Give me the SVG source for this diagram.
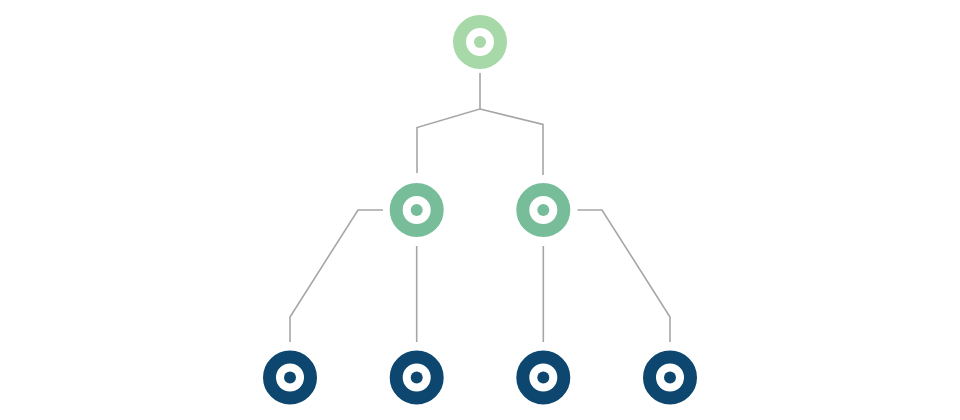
<svg xmlns="http://www.w3.org/2000/svg" width="960" height="420" viewBox="0 0 960 420">
<style>
.ring{stroke-width:13;fill:none}
.conn{fill:none;stroke:#a6a6a6;stroke-width:1.6;stroke-linejoin:miter}
.l1{stroke:#a6d9a7}.l1d{fill:#a6d9a7}
.l2{stroke:#77bd99}.l2d{fill:#77bd99}
.l3{stroke:#0d4770}.l3d{fill:#0d4770}
</style>
<rect width="960" height="420" fill="#ffffff"/>
<g id="connectors">
<path class="conn" d="M480,73 V109 L417,127.5 V173"/>
<path class="conn" d="M480,109 L543,124.5 V175"/>
<path class="conn" d="M383,210 H358 L290,317 V342"/>
<path class="conn" d="M416.7,246 V342"/>
<path class="conn" d="M543.3,246 V342"/>
<path class="conn" d="M577.5,210 H602 L670,317 V342"/>
</g>
<g id="root"><circle class="ring l1" cx="480" cy="42" r="20.5"/><circle class="l1d" cx="480" cy="42" r="6"/></g>
<g id="mid-left"><circle class="ring l2" cx="416.7" cy="210" r="20.5"/><circle class="l2d" cx="416.7" cy="210" r="6"/></g>
<g id="mid-right"><circle class="ring l2" cx="543.3" cy="210" r="20.5"/><circle class="l2d" cx="543.3" cy="210" r="6"/></g>
<g id="leaf-1"><circle class="ring l3" cx="290" cy="377.5" r="20.5"/><circle class="l3d" cx="290" cy="377.5" r="6"/></g>
<g id="leaf-2"><circle class="ring l3" cx="416.7" cy="377.5" r="20.5"/><circle class="l3d" cx="416.7" cy="377.5" r="6"/></g>
<g id="leaf-3"><circle class="ring l3" cx="543.3" cy="377.5" r="20.5"/><circle class="l3d" cx="543.3" cy="377.5" r="6"/></g>
<g id="leaf-4"><circle class="ring l3" cx="670" cy="377.5" r="20.5"/><circle class="l3d" cx="670" cy="377.5" r="6"/></g>
</svg>
